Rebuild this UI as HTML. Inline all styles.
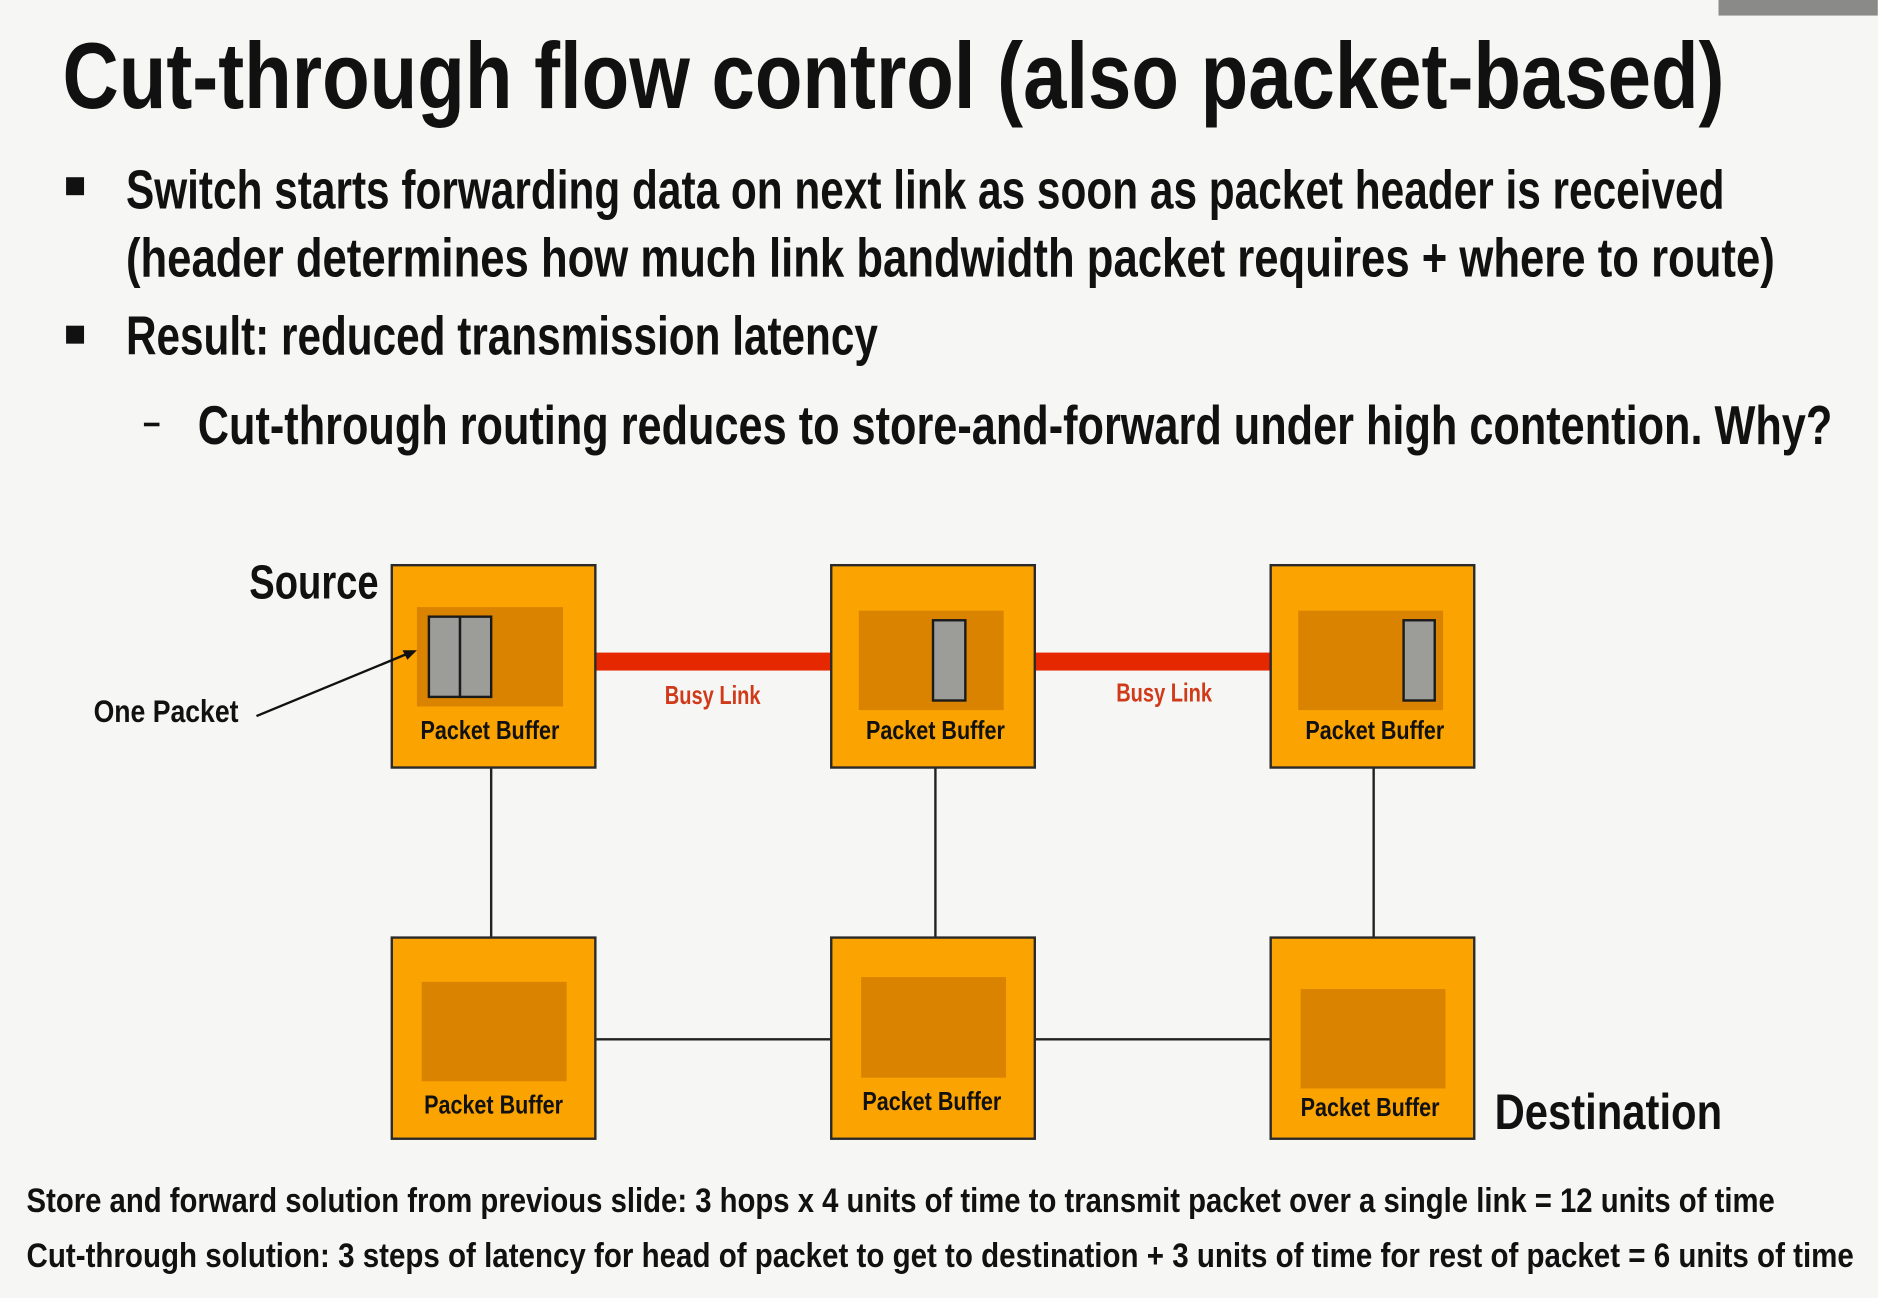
<!DOCTYPE html>
<html><head><meta charset="utf-8"><style>
html,body{margin:0;padding:0;background:#f6f7f4;}
svg{display:block;}
text{font-family:"Liberation Sans",sans-serif;font-weight:bold;fill:#111;}
</style></head><body>
<svg width="1878" height="1298" viewBox="0 0 1568 1084" xmlns="http://www.w3.org/2000/svg">
<rect x="0" y="0" width="1568" height="1084" fill="#f6f7f4"/>
<rect x="1435" y="0" width="133" height="13" fill="#8a8a88"/>
<text x="52" y="90" font-size="78" textLength="1388" lengthAdjust="spacingAndGlyphs">Cut-through flow control (also packet-based)</text>
<rect x="55" y="148" width="15" height="15" fill="#111"/>
<text x="105" y="174" font-size="46" textLength="1335" lengthAdjust="spacingAndGlyphs">Switch starts forwarding data on next link as soon as packet header is received</text>
<text x="105" y="231" font-size="46" textLength="1377" lengthAdjust="spacingAndGlyphs">(header determines how much link bandwidth packet requires + where to route)</text>
<rect x="55" y="272" width="15" height="15" fill="#111"/>
<text x="105" y="296" font-size="46" textLength="628" lengthAdjust="spacingAndGlyphs">Result: reduced transmission latency</text>
<rect x="120" y="353" width="13" height="3" fill="#111"/>
<text x="165" y="371" font-size="46" textLength="1365" lengthAdjust="spacingAndGlyphs">Cut-through routing reduces to store-and-forward under high contention.  Why?</text>
<text x="208" y="500" font-size="40" textLength="108" lengthAdjust="spacingAndGlyphs">Source</text>
<text x="1248" y="943" font-size="42" textLength="190" lengthAdjust="spacingAndGlyphs">Destination</text>
<g stroke="#222" stroke-width="2">
<line x1="410" y1="641" x2="410" y2="783"/>
<line x1="781" y1="641" x2="781" y2="783"/>
<line x1="1147" y1="641" x2="1147" y2="783"/>
<line x1="497" y1="868" x2="694" y2="868"/>
<line x1="864" y1="868" x2="1061" y2="868"/>
</g>
<rect x="497" y="545" width="197" height="15" fill="#e62800"/>
<rect x="864" y="545" width="197" height="15" fill="#e62800"/>
<text x="595" y="588" font-size="22" text-anchor="middle" style="fill:#d03a1a" textLength="80" lengthAdjust="spacingAndGlyphs">Busy Link</text>
<text x="972" y="586" font-size="22" text-anchor="middle" style="fill:#d03a1a" textLength="80" lengthAdjust="spacingAndGlyphs">Busy Link</text>
<g fill="#fba300" stroke="#2a2a2a" stroke-width="2">
<rect x="327" y="472" width="170" height="169"/>
<rect x="694" y="472" width="170" height="169"/>
<rect x="1061" y="472" width="170" height="169"/>
<rect x="327" y="783" width="170" height="168"/>
<rect x="694" y="783" width="170" height="168"/>
<rect x="1061" y="783" width="170" height="168"/>
</g>
<g fill="#d98300">
<rect x="348" y="507" width="122" height="83"/>
<rect x="717" y="510" width="121" height="83"/>
<rect x="1084" y="510" width="121" height="83"/>
<rect x="352" y="820" width="121" height="83"/>
<rect x="719" y="816" width="121" height="84"/>
<rect x="1086" y="826" width="121" height="83"/>
</g>
<g fill="#9c9c98" stroke="#1a1a1a" stroke-width="2">
<rect x="358" y="515" width="26" height="67"/>
<rect x="384" y="515" width="26" height="67"/>
<rect x="779" y="518" width="27" height="67"/>
<rect x="1172" y="518" width="26" height="67"/>
</g>
<g font-size="22" text-anchor="middle">
<text x="409" y="617" textLength="116" lengthAdjust="spacingAndGlyphs">Packet Buffer</text>
<text x="781" y="617" textLength="116" lengthAdjust="spacingAndGlyphs">Packet Buffer</text>
<text x="1148" y="617" textLength="116" lengthAdjust="spacingAndGlyphs">Packet Buffer</text>
<text x="412" y="930" textLength="116" lengthAdjust="spacingAndGlyphs">Packet Buffer</text>
<text x="778" y="927" textLength="116" lengthAdjust="spacingAndGlyphs">Packet Buffer</text>
<text x="1144" y="932" textLength="116" lengthAdjust="spacingAndGlyphs">Packet Buffer</text>
</g>
<text x="78" y="603" font-size="26" textLength="121" lengthAdjust="spacingAndGlyphs">One Packet</text>
<line x1="214" y1="598" x2="340" y2="546" stroke="#111" stroke-width="2"/>
<polygon points="348,543 336,543 340,551" fill="#111"/>
<text x="22" y="1012" font-size="29" textLength="1460" lengthAdjust="spacingAndGlyphs">Store and forward solution from previous slide: 3 hops x 4 units of time to transmit packet over a single link = 12 units of time</text>
<text x="22" y="1058" font-size="29" textLength="1526" lengthAdjust="spacingAndGlyphs">Cut-through solution: 3 steps of latency for head of packet to get to destination + 3 units of time for rest of packet = 6 units of time</text>
</svg>
</body></html>
